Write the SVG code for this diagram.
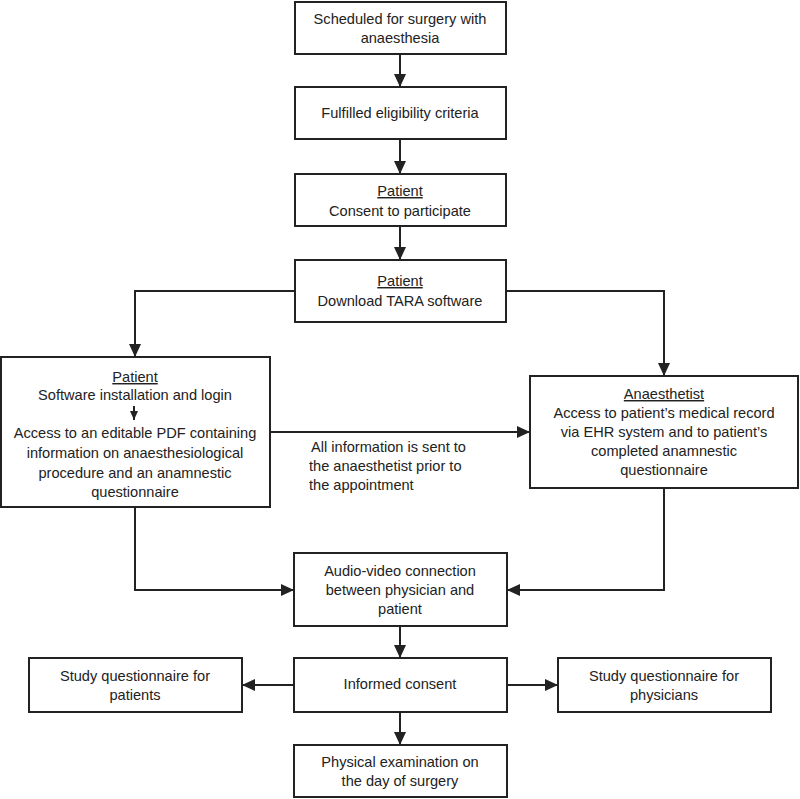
<svg xmlns="http://www.w3.org/2000/svg" width="800" height="799" viewBox="0 0 800 799">
<style>
.box{fill:#fff;stroke:#222;stroke-width:2}
text{font-family:"Liberation Sans",Arial,sans-serif;font-size:14.6px;fill:#222;text-anchor:middle}
.lbl{text-anchor:start}
.u{text-decoration:underline}
.c{fill:none;stroke:#222;stroke-width:2}
</style>
<defs>
<marker id="ah" markerUnits="userSpaceOnUse" markerWidth="14" markerHeight="14" viewBox="0 0 14 14" refX="13" refY="7" orient="auto">
<path d="M0,1 L13,7 L0,13 Z" fill="#222"/>
</marker>
<marker id="ahs" markerUnits="userSpaceOnUse" markerWidth="10" markerHeight="10" viewBox="0 0 10 10" refX="9" refY="5" orient="auto">
<path d="M0,1 L9,5 L0,9 Z" fill="#222"/>
</marker>
</defs>
<g id="connectors">
<path class="c" d="M400,54 V87" marker-end="url(#ah)"/>
<path class="c" d="M400,139 V174" marker-end="url(#ah)"/>
<path class="c" d="M400,226 V260" marker-end="url(#ah)"/>
<path class="c" d="M295,291 H135 V357" marker-end="url(#ah)"/>
<path class="c" d="M505,291 H664 V376" marker-end="url(#ah)"/>
<path class="c" d="M270,432 H530" marker-end="url(#ah)"/>
<path class="c" d="M135,507 V590 H294" marker-end="url(#ah)"/>
<path class="c" d="M664,488 V590 H507" marker-end="url(#ah)"/>
<path class="c" d="M400,626 V658" marker-end="url(#ah)"/>
<path class="c" d="M294,685 H242" marker-end="url(#ah)"/>
<path class="c" d="M507,685 H558" marker-end="url(#ah)"/>
<path class="c" d="M400,712 V745" marker-end="url(#ah)"/>
<text class="lbl" x="311" y="452">All information is sent to</text>
<text class="lbl" x="309" y="471">the anaesthetist prior to</text>
<text class="lbl" x="309" y="490">the appointment</text>
</g>
<g id="n1">
<rect class="box" x="295" y="2" width="211" height="52"/>
<text x="400" y="24">Scheduled for surgery with</text>
<text x="400" y="43">anaesthesia</text>
</g>
<g id="n2">
<rect class="box" x="295" y="87" width="211" height="52"/>
<text x="400" y="118">Fulfilled eligibility criteria</text>
</g>
<g id="n3">
<rect class="box" x="295" y="174" width="211" height="52"/>
<text x="400" y="196" class="u">Patient</text>
<text x="400" y="216">Consent to participate</text>
</g>
<g id="n4">
<rect class="box" x="295" y="260" width="211" height="62"/>
<text x="400" y="286" class="u">Patient</text>
<text x="400" y="306">Download TARA software</text>
</g>
<g id="n5">
<rect class="box" x="1" y="357" width="269" height="150"/>
<text x="135" y="382" class="u">Patient</text>
<text x="135" y="400">Software installation and login</text>
<path class="c" d="M134,406 V420" stroke-width="1.5" marker-end="url(#ahs)"/>
<text x="135" y="438">Access to an editable PDF containing</text>
<text x="135" y="458">information on anaesthesiological</text>
<text x="135" y="478">procedure and an anamnestic</text>
<text x="135" y="497">questionnaire</text>
</g>
<g id="n6">
<rect class="box" x="530" y="376" width="268" height="112"/>
<text x="664" y="399" class="u">Anaesthetist</text>
<text x="664" y="418">Access to patient’s medical record</text>
<text x="664" y="437">via EHR system and to patient’s</text>
<text x="664" y="456">completed anamnestic</text>
<text x="664" y="475">questionnaire</text>
</g>
<g id="n7">
<rect class="box" x="294" y="553" width="213" height="73"/>
<text x="400" y="576">Audio-video connection</text>
<text x="400" y="595">between physician and</text>
<text x="400" y="614">patient</text>
</g>
<g id="n8">
<rect class="box" x="294" y="658" width="213" height="54"/>
<text x="400" y="689">Informed consent</text>
</g>
<g id="n9">
<rect class="box" x="29" y="658" width="213" height="54"/>
<text x="135" y="681">Study questionnaire for</text>
<text x="135" y="700">patients</text>
</g>
<g id="n10">
<rect class="box" x="558" y="658" width="213" height="54"/>
<text x="664" y="681">Study questionnaire for</text>
<text x="664" y="700">physicians</text>
</g>
<g id="n11">
<rect class="box" x="294" y="745" width="213" height="52"/>
<text x="400" y="767">Physical examination on</text>
<text x="400" y="786">the day of surgery</text>
</g>
</svg>
